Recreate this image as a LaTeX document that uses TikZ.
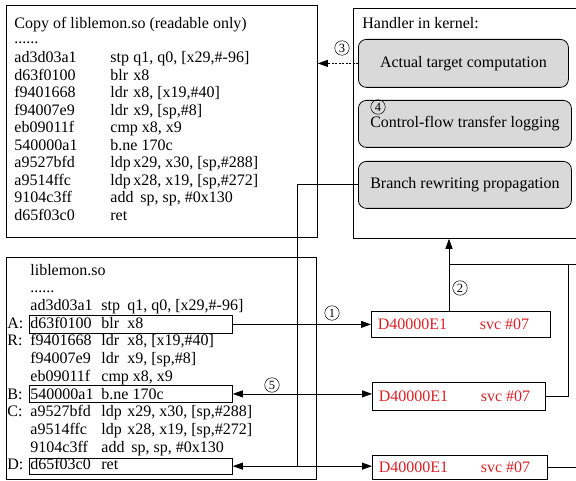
\documentclass[tikz,border=0pt]{standalone}
\usepackage{fontspec}
\setmainfont{Liberation Serif}
\usetikzlibrary{arrows.meta}
\definecolor{svcred}{RGB}{221,32,40}
\definecolor{stagegray}{RGB}{217,217,217}
\newcommand{\codefont}{\fontsize{16}{18}\selectfont}
\begin{document}
\begin{tikzpicture}[x=1pt,y=-1pt,line width=0.8pt,>={Triangle[length=10pt,width=7pt]},
  code/.style={anchor=base west,inner sep=0pt,font=\codefont},
  frame/.style={draw,anchor=north west,inner sep=0pt},
  stage/.style={frame,rounded corners=8pt,fill=stagegray,font=\codefont},
  svcbox/.style={frame},
  svctext/.style={anchor=west,inner sep=0pt,text=svcred,font=\codefont},
  numc/.style={circle,draw,line width=0.5pt,inner sep=0pt,minimum size=14.5pt,font=\fontsize{12.5}{12.5}\selectfont}]
\useasboundingbox (0,0) rectangle (576,481);

% copy of the library
\node[frame,minimum width=311pt,minimum height=232pt] (copy) at (6,5) {};
\node[code] (cptitle) at (14,29) {Copy of liblemon.so (readable only)};
\node[code] (cpdots) at (14,44) {......};
\foreach \h/\m/\o/\ox [count=\i from 0] in {ad3d03a1/stp/{q1, q0, [x29,\#-96]}/133,
    d63f0100/blr/x8/133, f9401668/ldr/{x8, [x19,\#40]}/133, f94007e9/ldr/{x9, [sp,\#8]}/133,
    eb09011f/{cmp x8, x9}/{}/133, 540000a1/{b.ne 170c}/{}/133,
    a9527bfd/ldp/{x29, x30, [sp,\#288]}/133, a9514ffc/ldp/{x28, x19, [sp,\#272]}/133,
    9104c3ff/add/{sp, sp, \#0x130}/140, d65f03c0/ret/{}/133} {
  \node[code] (cph\i) at (14,63+17.5*\i) {\h};
  \node[code] (cpm\i) at (110,63+17.5*\i) {\m};
  \node[code] (cpo\i) at (\ox,63+17.5*\i) {\o};
}

% kernel side
\node[frame,minimum width=260pt,minimum height=230pt] (hand) at (353,8) {};
\node[code] (handtitle) at (362,29) {Handler in kernel:};
\node[stage,minimum width=210pt,minimum height=48pt] (act) at (358,39) {Actual target computation};
\node[stage,minimum width=213pt,minimum height=47pt] (cft) at (358,100) {Control-flow transfer logging};
\node[stage,minimum width=213pt,minimum height=47pt] (brp) at (358,161) {Branch rewriting propagation};

% the library
\node[frame,minimum width=310pt,minimum height=222pt] (lib) at (6,257) {};
\node[code] (libtitle) at (30,275.5) {liblemon.so};
\node[code] (libdots) at (30,293) {......};
\foreach \h/\m/\o/\ox [count=\i from 0] in {ad3d03a1/stp/{q1, q0, [x29,\#-96]}/127,
    d63f0100/blr/x8/127, f9401668/ldr/{x8, [x19,\#40]}/127, f94007e9/ldr/{x9, [sp,\#8]}/127,
    eb09011f/{cmp x8, x9}/{}/127, 540000a1/{b.ne 170c}/{}/127,
    a9527bfd/ldp/{x29, x30, [sp,\#288]}/127, a9514ffc/ldp/{x28, x19, [sp,\#272]}/127,
    9104c3ff/add/{sp, sp, \#0x130}/131, d65f03c0/ret/{}/127} {
  \node[code] (lbh\i) at (30,310.5+17.7*\i) {\h};
  \node[code] (lbm\i) at (101,310.5+17.7*\i) {\m};
  \node[code] (lbo\i) at (\ox,310.5+17.7*\i) {\o};
}
\node[code] (labA) at (7,310.5+17.7) {A:};
\node[code] (labR) at (7,310.5+17.7*2) {R:};
\node[code] (labB) at (7,310.5+17.7*5) {B:};
\node[code] (labC) at (7,310.5+17.7*6) {C:};
\node[code] (labD) at (7,310.5+17.7*9) {D:};
\node[frame,minimum width=203pt,minimum height=18pt] (A) at (29,315) {};
\node[frame,minimum width=203pt,minimum height=17pt] (B) at (29,385) {};
\node[frame,minimum width=203pt,minimum height=16.5pt] (D) at (29,457.5) {};

% trampolines
\node[svcbox,minimum width=179pt,minimum height=26pt] (s1) at (371,311) {};
\node[svcbox,minimum width=173pt,minimum height=28pt] (s2) at (372,382) {};
\node[svcbox,minimum width=175pt,minimum height=24pt] (s3) at (372,455) {};
\foreach \s in {s1,s2,s3} {
  \node[svctext] (\s hex) at ([xshift=6.5pt]\s.west) {D40000E1};
  \node[svctext] (\s svc) at ([xshift=108.5pt]\s.west) {svc \#07};
}

% connectors
\coordinate (jx) at (297,0);
\coordinate (upx) at (449,0);
\coordinate (k) at (568,264);
\draw[->] (A.east) -- (A.east -| s1.west);
\draw[<->] (B.east) -- (B.east -| s2.west);
\draw[<->] (D.east) -- (D.east -| s3.west);
\draw (brp.west) -| (D.east -| jx);
\draw[->,dash pattern=on 2pt off 1.5pt] (act.west) -- (act.west -| copy.east);
\draw[->] (s1.north -| upx) -- (hand.south -| upx);
\draw (s2.east) -| (k) -- (k -| upx);
\draw (k) -- ++(20,0);
\draw (s3.east) -- ++(40,0);

\node[numc] (n1) at (332,313) {1};
\node[numc] (n2) at (460,288) {2};
\node[numc] (n3) at (342,48) {3};
\node[numc] (n4) at (378,107) {4};
\node[numc] (n5) at (272,385) {5};
\end{tikzpicture}
\end{document}
